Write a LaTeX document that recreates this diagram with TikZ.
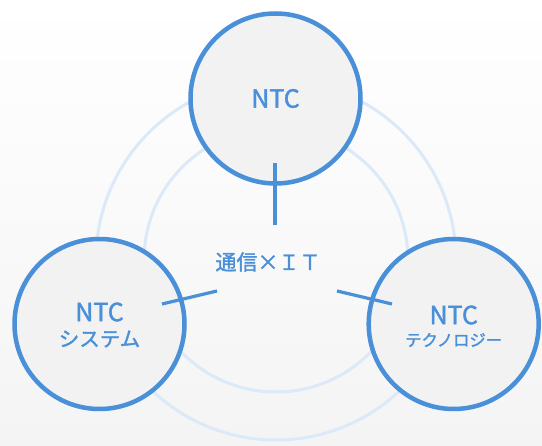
\documentclass[tikz,border=0pt]{standalone}
\usepackage{fontspec}
\setmainfont{Noto Sans CJK JP}[BoldFont=Noto Sans CJK JP, BoldFeatures={FakeBold=1.6}]
\definecolor{mainblue}{HTML}{4A90D9}
\definecolor{ringblue}{HTML}{DCE9F8}
\definecolor{fillgray}{HTML}{F2F2F2}
\definecolor{bgbot}{HTML}{F4F4F4}
\begin{document}
\begin{tikzpicture}[x=1pt,y=-1pt,
  bigcirc/.style={circle, draw=mainblue, line width=4.5pt, fill=fillgray,
    minimum size=170pt, inner sep=0pt},
  label/.style={text=mainblue, inner sep=0pt, anchor=center},
  ring/.style={draw=ringblue, line width=3pt},
  link/.style={draw=mainblue, line width=3.2pt}]
\useasboundingbox (0,0) rectangle (542,446);
\shade[top color=white, bottom color=bgbot] (0,0) rectangle (542,446);
% background rings
\coordinate (rc) at (276,260);
\draw[ring] (rc) circle[radius=180];
\draw[ring] (rc) circle[radius=132];
% center label
\node[label, font=\bfseries\fontsize{21}{24}\selectfont] (mid) at (268,262) {通信×ＩＴ};
% connector end points
\coordinate (t1) at (275,163);
\coordinate (t2) at (275,225);
\coordinate (l1) at (162,304);
\coordinate (l2) at (217,291);
\coordinate (r1) at (337,291);
\coordinate (r2) at (392,304);
% circles
\node[bigcirc] (top) at (275.5,98.5) {};
\node[bigcirc] (left) at (99.5,324) {};
\node[bigcirc] (right) at (453.7,324) {};
% circle texts
\node[label, font=\bfseries\fontsize{25}{25}\selectfont] (toptxt) at (top.center) {NTC};
\node[label, font=\bfseries\fontsize{25}{25}\selectfont] (lefttxt1) at (99.5,312) {NTC};
\node[label, font=\bfseries\fontsize{20.5}{21}\selectfont] (lefttxt2) at (99.5,339) {システム};
\node[label, font=\bfseries\fontsize{25}{25}\selectfont] (righttxt1) at (453.7,315) {NTC};
\node[label, font=\bfseries\fontsize{16.3}{17}\selectfont] (righttxt2) at (453.7,340) {テクノロジー};
% connectors
\draw[link] (t1) -- (t2);
\draw[link] (l1) -- (l2);
\draw[link] (r1) -- (r2);
\end{tikzpicture}
\end{document}
